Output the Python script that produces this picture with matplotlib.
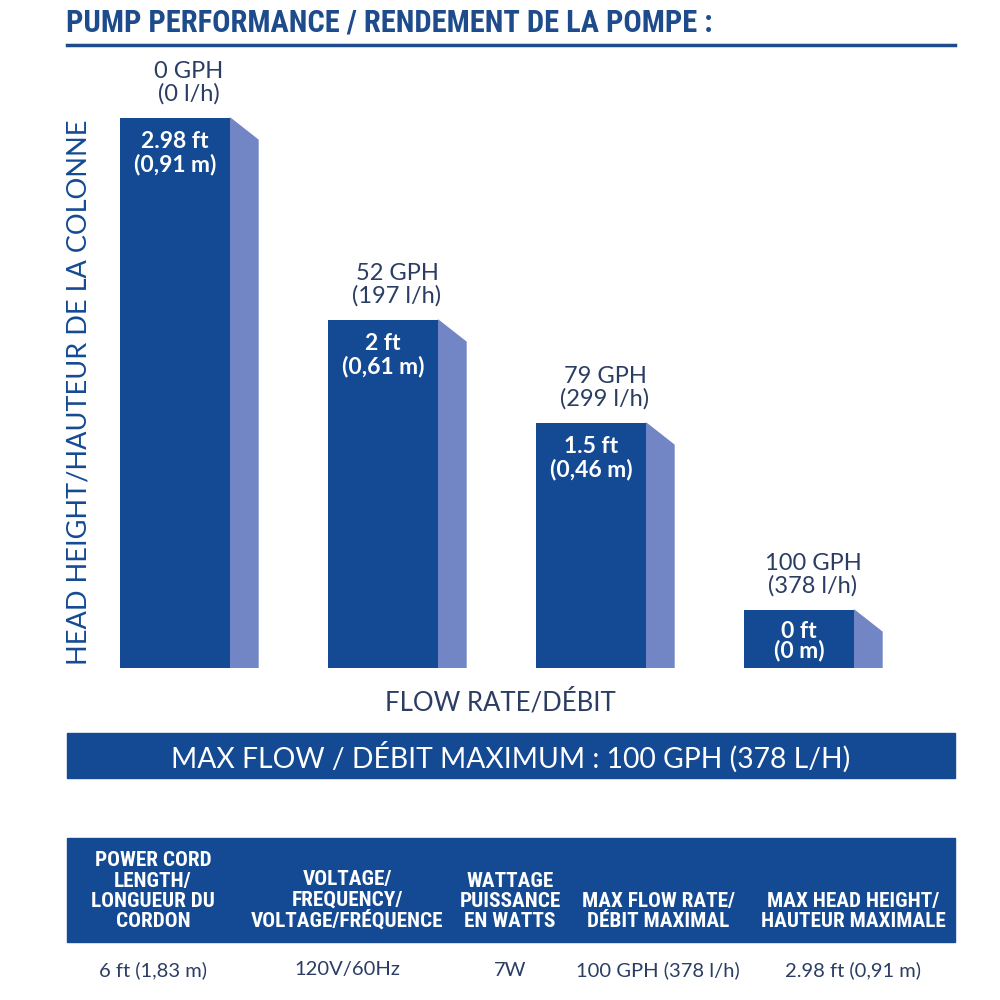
import matplotlib
matplotlib.use("Agg")
import matplotlib.pyplot as plt
from matplotlib.patches import Polygon, Rectangle
import numpy as np

# data
flow_gph = ["0 GPH", "52 GPH", "79 GPH", "100 GPH"]
flow_lh = ["(0 l/h)", "(197 l/h)", "(299 l/h)", "(378 l/h)"]
head_ft = ["2.98 ft", "2 ft", "1.5 ft", "0 ft"]
head_m = ["(0,91 m)", "(0,61 m)", "(0,46 m)", "(0 m)"]
# drawn bar heights (visual units, as shown in the picture)
bar_height = [550, 348, 245, 58]

table_headers = ["POWER CORD\nLENGTH/\nLONGUEUR DU\nCORDON",
                 "VOLTAGE/\nFREQUENCY/\nVOLTAGE/FRÉQUENCE",
                 "WATTAGE\nPUISSANCE\nEN WATTS",
                 "MAX FLOW RATE/\nDÉBIT MAXIMAL",
                 "MAX HEAD HEIGHT/\nHAUTEUR MAXIMALE"]
table_values = ["6 ft (1,83 m)", "120V/60Hz", "7W", "100 GPH (378 l/h)", "2.98 ft (0,91 m)"]
col_x = [153, 347, 510, 658, 853]

title = "PUMP PERFORMANCE / RENDEMENT DE LA POMPE :"
banner = "MAX FLOW / DÉBIT MAXIMUM : 100 GPH (378 L/H)"

navy = "#134a93"
side = "#7285c4"
txt = "#2b3d63"
narrow = ["Roboto Condensed", "Roboto", "DejaVu Sans"]
thin = ["Lato", "DejaVu Sans"]

fig = plt.figure(figsize=(10, 10), dpi=100)
fig.patch.set_facecolor("white")

# background axes in pixel coords for the decorations
bg = fig.add_axes([0, 0, 1, 1])
bg.set_xlim(0, 1000)
bg.set_ylim(1000, 0)
bg.axis("off")

bg.text(66, 23, title, fontsize=22, fontweight="bold", family=narrow,
        color="#1d4b8c", va="center", ha="left")
bg.plot([67, 955], [45, 45], color="#1d4b8c", lw=2.5)

bg.text(500, 702, "FLOW RATE/DÉBIT", fontsize=18.5, family=thin, color=txt,
        ha="center", va="center")

bg.add_patch(Rectangle((67, 733), 888, 45, color=navy))
bg.text(511, 757, banner, fontsize=20.3, family=thin, color="white",
        ha="center", va="center")

bg.add_patch(Rectangle((67, 838), 888, 104, color=navy))
for cx, h, v in zip(col_x, table_headers, table_values):
    bg.text(cx, 931, h, fontsize=15.3, fontweight="bold", family=narrow, color="white",
            ha="center", va="bottom", linespacing=1.08)
    bg.text(cx, 970, v, fontsize=14.5, family=thin, color=txt, ha="center", va="center")

# bar axes
ax = fig.add_axes([0.067, 0.332, 0.888, 0.558])
x = np.arange(len(bar_height))
ax.set_xlim(-(175 - 67) / 208, 3 + (955 - 799) / 208)
ax.set_ylim(0, 558)
ax.axis("off")

w = 110 / 208
depth = 28 / 208
drop = 22
ax.bar(x, bar_height, width=w, color=navy, zorder=2)
for xi, hi in zip(x, bar_height):
    r = xi + w / 2
    ax.add_patch(Polygon([[r, hi], [r + depth, hi - drop], [r + depth, 0], [r, 0]],
                         closed=True, color=side, zorder=1))

fig.text(0.079, 1 - 392 / 1000, "HEAD HEIGHT/HAUTEUR DE LA COLONNE", rotation=90,
         fontsize=19.5, family=thin, color=navy, ha="center", va="center")

for xi, hi, g, l, f, m in zip(x, bar_height, flow_gph, flow_lh, head_ft, head_m):
    cx = xi + depth / 2
    ax.text(cx, hi + 35, g + "\n" + l, fontsize=17, family=thin, color=txt,
            ha="center", va="center", linespacing=1.08, clip_on=False)
    # short bar: the two lines sit closer together
    if hi > 100:
        ax.text(xi, hi - 35.5, f + "\n" + m, fontsize=16.5, fontweight="bold",
                family=thin, color="white", ha="center", va="center",
                linespacing=1.1, zorder=3)
    else:
        ax.text(xi, hi - 31.5, f + "\n" + m, fontsize=16.5, fontweight="bold",
                family=thin, color="white", ha="center", va="center",
                linespacing=0.85, zorder=3)

fig.savefig("out.png", dpi=100, facecolor="white")
